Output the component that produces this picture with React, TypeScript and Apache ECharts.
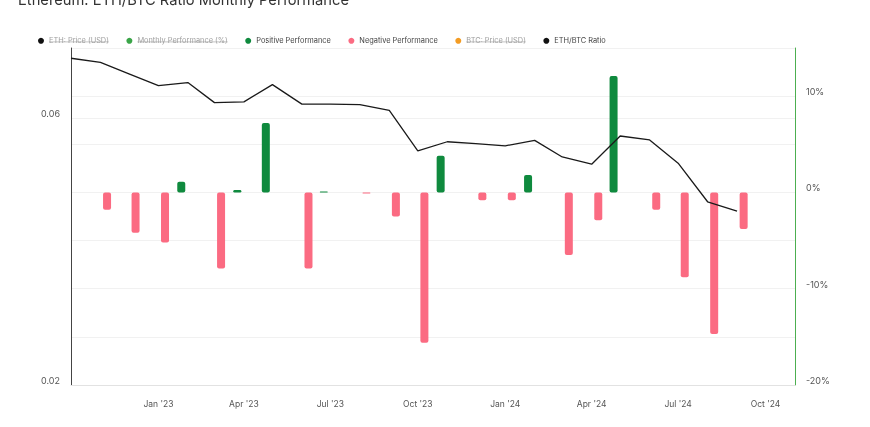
import { useEffect, useRef } from 'react';
import * as echarts from 'echarts';

const months = [
  '2022-10-01', '2022-11-01', '2022-12-01', '2023-01-01', '2023-02-01', '2023-03-01',
  '2023-04-01', '2023-05-01', '2023-06-01', '2023-07-01', '2023-08-01', '2023-09-01',
  '2023-10-01', '2023-11-01', '2023-12-01', '2024-01-01', '2024-02-01', '2024-03-01',
  '2024-04-01', '2024-05-01', '2024-06-01', '2024-07-01', '2024-08-01', '2024-09-01',
];
const ethBtcRatio = [
  0.0767, 0.0754, 0.0719, 0.0685, 0.0694, 0.0639,
  0.0641, 0.0688, 0.0635, 0.0635, 0.0634, 0.0619,
  0.0524, 0.0544, 0.054, 0.0535, 0.0547, 0.0511,
  0.0496, 0.0557, 0.0548, 0.0498, 0.0425, 0.0409,
];
const monthlyPerformance: (number | null)[] = [
  null, -1.8, -4.2, -5.2, 1.1, -7.9,
  0.25, 7.2, -7.9, 0.1, -0.1, -2.5,
  -15.6, 3.8, -0.8, -0.8, 1.8, -6.5,
  -2.9, 12.1, -1.8, -8.8, -14.7, -3.8,
];
const xTickDates = [
  '2023-01-01', '2023-04-01', '2023-07-01', '2023-10-01',
  '2024-01-01', '2024-04-01', '2024-07-01', '2024-10-01',
];
const xRange = ['2022-10-01', '2024-11-01'];
const leftTicks = [0.02, 0.06];
const leftRange = [0.02, 0.08];
const rightRange = [-20, 15];
const rightInterval = 5;
const legendNames = [
  'ETH: Price (USD)', 'Monthly Performance (%)', 'Positive Performance',
  'Negative Performance', 'BTC: Price (USD)', 'ETH/BTC Ratio',
];
const legendInactive = [true, true, false, false, true, false];

const MON = ['Jan', 'Feb', 'Mar', 'Apr', 'May', 'Jun', 'Jul', 'Aug', 'Sep', 'Oct', 'Nov', 'Dec'];
const ts = (s: string) => {
  const [y, m, d] = s.split('-').map(Number);
  return Date.UTC(y, m - 1, d);
};

const FONT = 'Inter, "Noto Sans", sans-serif';
const LEGEND_FONT_SIZE = 7.4;
const LEGEND_LEFT = 38;
const LEGEND_TOP = 37.3;
const LEGEND_ICON = 6;
const LEGEND_GAP = 17.5;
const LEGEND_TEXT_PAD = 5;

export default function App() {
  const ref = useRef<HTMLDivElement>(null);
  useEffect(() => {
    const chart = echarts.init(ref.current!, null, { renderer: 'svg' });
    const posData = months.map((m, i) => {
      const v = monthlyPerformance[i];
      return [ts(m), v != null && v >= 0 ? v : '-'];
    });
    const negData = months.map((m, i) => {
      const v = monthlyPerformance[i];
      return [ts(m), v != null && v < 0 ? v : '-'];
    });
    const ratioData = months.map((m, i) => [ts(m), ethBtcRatio[i]]);
    const activeText = '#444';
    const inactiveText = '#a0a0a0';

    // strike-through for the inactive legend entries, from measured text widths
    const ctx = document.createElement('canvas').getContext('2d')!;
    ctx.font = `${LEGEND_FONT_SIZE}px ${FONT}`;
    const strikes: any[] = [];
    let cx = LEGEND_LEFT;
    const midY = LEGEND_TOP + 4.6;
    legendNames.forEach((n, i) => {
      const w = ctx.measureText(n).width;
      const tx = cx + LEGEND_ICON + LEGEND_TEXT_PAD;
      if (legendInactive[i]) {
        strikes.push({
          type: 'line',
          silent: true,
          shape: { x1: tx, y1: midY, x2: tx + w, y2: midY },
          style: { stroke: '#a8a8a8', lineWidth: 0.7 },
        });
      }
      cx = tx + w + LEGEND_GAP;
    });

    chart.setOption({
      animation: false,
      title: {
        text: 'Ethereum: ETH/BTC Ratio Monthly Performance',
        left: 18,
        top: -8,
        padding: 0,
        textStyle: { fontSize: 14.7, fontWeight: 'normal', color: '#333', fontFamily: FONT, lineHeight: 15 },
      },
      legend: {
        left: LEGEND_LEFT,
        top: LEGEND_TOP,
        padding: 0,
        itemWidth: LEGEND_ICON,
        itemHeight: LEGEND_ICON,
        itemGap: LEGEND_GAP,
        icon: 'circle',
        textStyle: { fontSize: LEGEND_FONT_SIZE, fontFamily: FONT, color: activeText },
        data: legendNames.map((n, i) => (legendInactive[i] ? { name: n, textStyle: { color: inactiveText } } : { name: n })),
      },
      graphic: strikes,
      grid: { left: 71, right: 75, top: 48, bottom: 42 },
      xAxis: {
        type: 'value',
        min: ts(xRange[0]),
        max: ts(xRange[1]),
        axisLine: { show: true, onZero: false, lineStyle: { color: '#e2e2e2' } },
        axisTick: { show: false },
        splitLine: { show: false },
        axisLabel: {
          customValues: xTickDates.map(ts),
          margin: 14,
          fontSize: 8.5,
          fontFamily: FONT,
          color: '#555',
          formatter: (v: number) => {
            const d = new Date(v);
            return `${MON[d.getUTCMonth()]} '${String(d.getUTCFullYear()).slice(2)}`;
          },
        },
      },
      yAxis: [
        {
          type: 'log',
          logBase: 10,
          min: leftRange[0],
          max: leftRange[1],
          position: 'left',
          axisLine: { show: true, lineStyle: { color: '#444', width: 1 } },
          axisTick: { show: false },
          splitLine: { show: false },
          axisLabel: {
            customValues: leftTicks,
            fontSize: 9,
            fontFamily: FONT,
            color: '#555',
            margin: 11,
            verticalAlign: 'bottom',
            formatter: (v: number) => Number(v).toFixed(2),
          },
        },
        {
          type: 'value',
          min: rightRange[0],
          max: rightRange[1],
          interval: rightInterval,
          position: 'right',
          axisLine: { show: true, lineStyle: { color: '#4caf50', width: 1 } },
          axisTick: { show: false },
          splitLine: { show: true, lineStyle: { color: '#f1f1f1' } },
          axisLabel: {
            fontSize: 9,
            fontFamily: FONT,
            color: '#555',
            margin: 11,
            verticalAlign: 'bottom',
            formatter: (v: number) => (v % 10 === 0 ? `${v}%` : ''),
          },
        },
      ],
      series: [
        { name: legendNames[0], type: 'line', data: [], itemStyle: { color: '#111' }, lineStyle: { color: '#111' } },
        { name: legendNames[1], type: 'line', data: [], itemStyle: { color: '#3aa548' }, lineStyle: { color: '#3aa548' } },
        {
          name: legendNames[2],
          type: 'bar',
          yAxisIndex: 1,
          data: posData,
          barWidth: 8,
          barGap: '65%',
          itemStyle: { color: '#0f8a3e', borderRadius: 2 },
        },
        {
          name: legendNames[3],
          type: 'bar',
          yAxisIndex: 1,
          data: negData,
          barWidth: 8,
          barGap: '65%',
          itemStyle: { color: '#fb6b82', borderRadius: 2 },
        },
        { name: legendNames[4], type: 'line', data: [], itemStyle: { color: '#f39c24' }, lineStyle: { color: '#f39c24' } },
        {
          name: legendNames[5],
          type: 'line',
          yAxisIndex: 0,
          data: ratioData,
          showSymbol: false,
          symbol: 'none',
          itemStyle: { color: '#111' },
          lineStyle: { color: '#1a1a1a', width: 1.3 },
          z: 5,
          markLine: {
            silent: true,
            symbol: 'none',
            label: { show: false },
            lineStyle: { color: '#f1f1f1', type: 'solid', width: 1 },
            data: [{ yAxis: leftTicks[1] }],
            z: 0,
          },
        },
      ],
    });
    return () => chart.dispose();
  }, []);
  return <div ref={ref} style={{ position: 'fixed', left: 0, top: 0, width: 870, height: 427 }} />;
}
